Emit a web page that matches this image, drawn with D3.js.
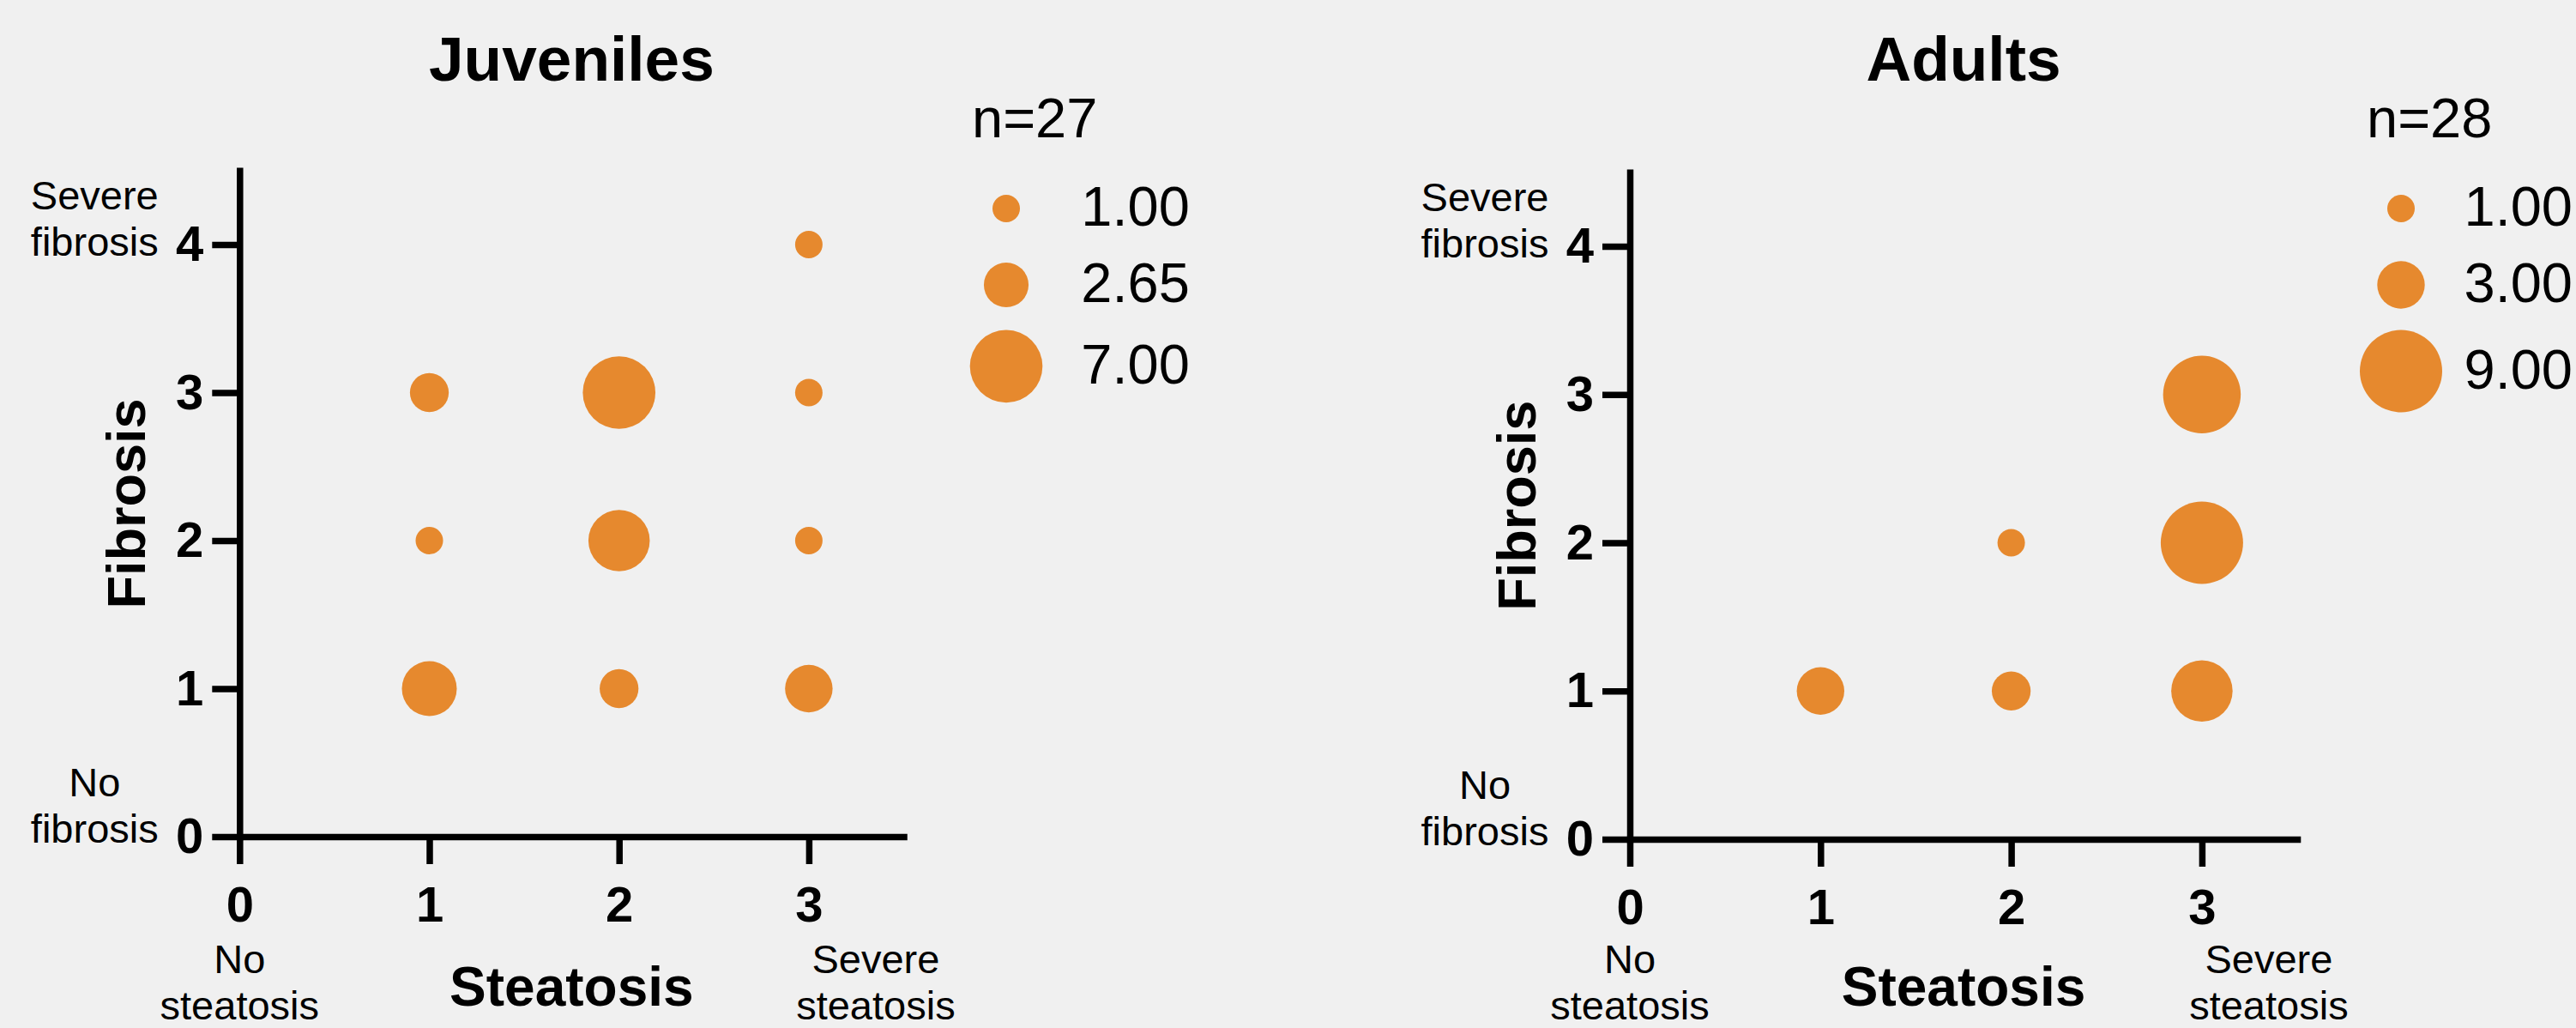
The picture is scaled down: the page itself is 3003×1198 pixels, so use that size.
<!DOCTYPE html>
<html>
<head>
<meta charset="utf-8">
<script src="https://cdn.jsdelivr.net/npm/d3@7"></script>
<style>
  html, body { margin: 0; padding: 0; background: #f0f0f0; }
  svg { display: block; }
  text { font-family: "Liberation Sans", Arial, Helvetica, sans-serif; fill: #000; }
</style>
</head>
<body>
<svg id="chart" width="3003" height="1198"></svg>
<script>
// ---------------- DATA ----------------
const xTicks = [0, 1, 2, 3];
const yTicks = [0, 1, 2, 3, 4];

const juvTitle = "Juveniles";
const juvN = "n=27";
const juvSteatosis = [3, 1, 2, 3, 1, 2, 3, 1, 2, 3];
const juvFibrosis  = [4, 3, 3, 3, 2, 2, 2, 1, 1, 1];
const juvCount     = [1, 2, 7, 1, 1, 5, 1, 4, 2, 3];
const juvLegend    = [1.00, 2.65, 7.00];

const adTitle = "Adults";
const adN = "n=28";
const adSteatosis = [3, 2, 3, 1, 2, 3];
const adFibrosis  = [3, 2, 2, 1, 1, 1];
const adCount     = [8, 1, 9, 3, 2, 5];
const adLegend    = [1.00, 3.00, 9.00];

const xAxisTitle = "Steatosis";
const yAxisTitle = "Fibrosis";
const xLowLabel = ["No", "steatosis"];
const xHighLabel = ["Severe", "steatosis"];
const yLowLabel = ["No", "fibrosis"];
const yHighLabel = ["Severe", "fibrosis"];

// ---------------- DRAW ----------------
const W = 3003, H = 1198;
const svg = d3.select("#chart");
svg.append("rect").attr("width", W).attr("height", H).attr("fill", "#f0f0f0");

const orange = "#e6892e";
const rScale = d3.scaleSqrt().domain([0, 1]).range([0, 16]);

function panel(cfg) {
  const x = d3.scaleLinear().domain([0, 3.5]).range([cfg.x0, cfg.x0 + 3.5 * cfg.xu]);
  const y = d3.scaleLinear().domain([0, 4.5]).range([cfg.y0, cfg.y0 - 4.5 * cfg.yu]);
  const g = svg.append("g");

  // axes
  const xa = g.append("g").attr("transform", `translate(0,${cfg.y0})`)
    .call(d3.axisBottom(x).tickValues(xTicks).tickFormat(d3.format("d"))
      .tickSize(32).tickSizeOuter(0).tickPadding(26));
  const ya = g.append("g").attr("transform", `translate(${cfg.x0},0)`)
    .call(d3.axisLeft(y).tickValues(yTicks).tickFormat(d3.format("d"))
      .tickSize(32).tickSizeOuter(0).tickPadding(10));
  [xa, ya].forEach(a => {
    a.select(".domain").attr("stroke", "#000").attr("stroke-width", 7.5).attr("stroke-linecap", "square");
    a.selectAll(".tick line").attr("stroke", "#000").attr("stroke-width", 7.5);
    a.selectAll(".tick text").attr("fill", "#000")
      .style("font-size", "58px").style("font-weight", "bold")
      .style("font-family", '"Liberation Sans", Arial, sans-serif');
  });

  // bubbles
  g.append("g").selectAll("circle")
    .data(cfg.sx.map((d, i) => ({ sx: d, fy: cfg.fy[i], n: cfg.n[i] })))
    .join("circle")
    .attr("cx", d => x(d.sx))
    .attr("cy", d => y(d.fy))
    .attr("r", d => rScale(d.n))
    .attr("fill", orange);

  // title
  g.append("text").attr("x", x(1.75)).attr("y", 94).attr("text-anchor", "middle")
    .style("font-size", "73px").style("font-weight", "bold").text(cfg.title);

  // x axis title
  g.append("text").attr("x", x(1.75)).attr("y", 1172).attr("text-anchor", "middle")
    .style("font-size", "64px").style("font-weight", "bold").text(xAxisTitle);

  // y axis title
  g.append("text")
    .attr("transform", `translate(${cfg.x0 - 110},${y(2.25)}) rotate(-90)`)
    .attr("text-anchor", "middle")
    .style("font-size", "63px").style("font-weight", "bold").text(yAxisTitle);

  // end labels
  const lbl = (lines, cx, baseline) => {
    const t = g.append("text").attr("text-anchor", "middle").style("font-size", "47px");
    lines.forEach((s, i) => t.append("tspan").attr("x", cx).attr("y", baseline + i * 54).text(s));
  };
  lbl(xLowLabel, x(0), 1134);
  lbl(xHighLabel, x(3) + 78, 1134);
  lbl(yHighLabel, cfg.x0 - 169, y(4) - 41);
  lbl(yLowLabel, cfg.x0 - 169, y(0) - 47);

  // legend
  const lg = g.append("g");
  lg.append("text").attr("x", cfg.lx - 40).attr("y", 160).style("font-size", "65px").text(cfg.nlabel);
  const rmax = d3.max(cfg.legend, v => rScale(v));
  let top = 198.5;
  cfg.legend.forEach(v => {
    const r = rScale(v);
    const h = Math.max(2 * r, 73) + 16;
    const cy = top + h / 2;
    lg.append("circle").attr("cx", cfg.lx).attr("cy", cy).attr("r", r).attr("fill", orange);
    const t = lg.append("text").attr("x", cfg.lx + rmax + 45).attr("y", cy + 20)
      .style("font-size", "65px").text(d3.format(".2f")(v));
    const tw = t.node().getComputedTextLength();
    const lx = Math.min(cfg.lx + rmax + 45, W - tw - 4);
    t.attr("x", lx);
    top += h;
  });
}

panel({ x0: 279.3, xu: 221.2, y0: 975, yu: 172.5, title: juvTitle, nlabel: juvN,
        sx: juvSteatosis, fy: juvFibrosis, n: juvCount, legend: juvLegend, lx: 1173 });
panel({ x0: 1900, xu: 222.3, y0: 978, yu: 172.75, title: adTitle, nlabel: adN,
        sx: adSteatosis, fy: adFibrosis, n: adCount, legend: adLegend, lx: 2799 });
</script>
</body>
</html>
